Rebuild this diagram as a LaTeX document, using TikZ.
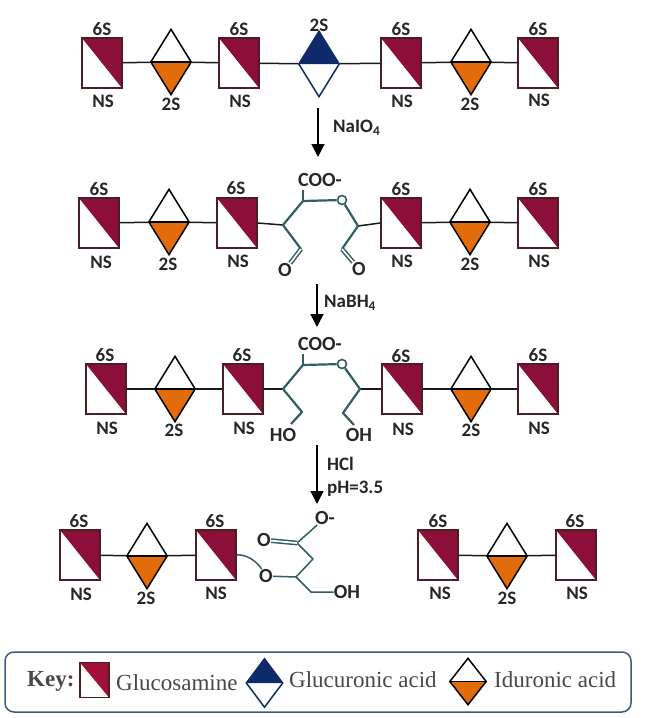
\documentclass[tikz,border=0pt]{standalone}
\usepackage{fontspec}
\setmainfont{Carlito}
\newfontfamily\keyfont{Liberation Serif}
\usetikzlibrary{shapes.geometric,arrows.meta}
\definecolor{gcn}{HTML}{8C0F3A}
\definecolor{gcnkey}{HTML}{A00F35}
\definecolor{gcnedge}{HTML}{4A1F22}
\definecolor{idoa}{HTML}{E36C0A}
\definecolor{gca}{HTML}{0F2A6B}
\definecolor{chain}{HTML}{2F5F63}
\definecolor{keytext}{HTML}{484848}
\definecolor{keyedge}{HTML}{3F5A80}
\tikzset{
  x=1pt,y=-1pt,
  glcn/.style={rectangle,draw=gcnedge,line width=1.5pt,fill=white,minimum width=40pt,minimum height=50pt,inner sep=0pt,
    path picture={\fill[gcn] (path picture bounding box.north west)--(path picture bounding box.north east)--(path picture bounding box.south east)--cycle;}},
  ido/.style={diamond,draw=black,line width=1.5pt,fill=white,minimum width=41pt,minimum height=66pt,inner sep=0pt,
    path picture={\fill[idoa] (path picture bounding box.west)--(path picture bounding box.east)--(path picture bounding box.south)--cycle;
      \draw[black,line width=1.5pt] (path picture bounding box.west)--(path picture bounding box.east);}},
  glca/.style={diamond,draw=gca,line width=1.5pt,fill=white,minimum width=41pt,minimum height=66pt,inner sep=0pt,
    path picture={\fill[gca] (path picture bounding box.west)--(path picture bounding box.east)--(path picture bounding box.north)--cycle;}},
  link/.style={line width=1.5pt,draw=black!90},
  bond/.style={line width=2.2pt,draw=chain,line join=round},
  thin bond/.style={line width=1.5pt,draw=chain,line join=round},
  ringo/.style={circle,draw=chain,line width=1.6pt,fill=white,minimum size=9pt,inner sep=0pt},
  lab/.style={font=\bfseries\fontsize{19}{19}\selectfont,inner sep=0pt,text=black!85},
  chem/.style={font=\bfseries\fontsize{20}{20}\selectfont,inner sep=0pt,text=black!85},
  rxn/.style={line width=1.5pt,-{Triangle[length=13pt,width=13pt]}},
  rxnlab/.style={font=\bfseries\fontsize{19}{19}\selectfont,inner sep=0pt,anchor=west,text=black!85},
  keylab/.style={font=\keyfont\fontsize{23}{23}\selectfont,inner sep=0pt,anchor=west,text=keytext},
}
\begin{document}
\begin{tikzpicture}
\useasboundingbox (0,0) rectangle (645,718);
% first chain
\node[glcn] (a1) at (102,63) {};
\node[ido]  (a2) at (171,62) {};
\node[glcn] (a3) at (239,63) {};
\node[glca] (a4) at (319,64) {};
\node[glcn] (a5) at (401,63) {};
\node[ido]  (a6) at (471,62) {};
\node[glcn] (a7) at (538,63) {};
\draw[link] (a1)--(a2) (a2)--(a3) (a3)--(a4) (a4)--(a5) (a5)--(a6) (a6)--(a7);
\node[lab] (a1t) at (102,29) {6S};
\node[lab] (a1b) at (103,101) {NS};
\node[lab] (a2b) at (171,104) {2S};
\node[lab] (a3t) at (239,29) {6S};
\node[lab] (a3b) at (240,101) {NS};
\node[lab] (a4t) at (319,25) {2S};
\node[lab] (a5t) at (401,29) {6S};
\node[lab] (a5b) at (402,101) {NS};
\node[lab] (a6b) at (470,104) {2S};
\node[lab] (a7t) at (538,29) {6S};
\node[lab] (a7b) at (539,100) {NS};
% periodate step
\coordinate (r1a) at (318,108);
\coordinate (r1b) at (318,157);
\draw[rxn] (r1a)--(r1b);
\node[rxnlab] (r1t) at (333,128) {NaIO\textsubscript{4}};
% second chain
\node[glcn] (b1) at (99,223) {};
\node[ido]  (b2) at (169,222) {};
\node[glcn] (b3) at (237,223) {};
\node[glcn] (b5) at (401,223) {};
\node[ido]  (b6) at (470,222) {};
\node[glcn] (b7) at (538,223) {};
\coordinate (b4l) at (283,225);
\coordinate (b4r) at (358,226);
\coordinate (b4t) at (303,201);
\coordinate (b4s) at (303,190);
\node[ringo] (b4o) at (342,200) {};
\coordinate (b4p) at (301,249);
\coordinate (b4q) at (342,249);
\node[chem] (b4x) at (285,270) {O};
\node[chem] (b4y) at (359,269) {O};
\node[chem] (b4c) at (320,180) {COO-};
\draw[link] (b1)--(b2) (b2)--(b3) (b5)--(b6) (b6)--(b7);
\draw[link] (b3.east)--(b4l) (b4r)--(b5.west);
\draw[bond] (b4p)--(b4l)--(b4t)--(b4o)--(b4r)--(b4q);
\draw[bond] (b4t)--(b4s);
\draw[thin bond,double,double distance=1.6pt] (b4p)--(b4x);
\draw[thin bond,double,double distance=1.6pt] (b4q)--(b4y);
\node[lab] (b1t) at (99,189) {6S};
\node[lab] (b1b) at (101,262) {NS};
\node[lab] (b2b) at (168,264) {2S};
\node[lab] (b3t) at (236,188) {6S};
\node[lab] (b3b) at (238,261) {NS};
\node[lab] (b5t) at (401,189) {6S};
\node[lab] (b5b) at (402,261) {NS};
\node[lab] (b6b) at (470,264) {2S};
\node[lab] (b7t) at (538,189) {6S};
\node[lab] (b7b) at (539,261) {NS};
% borohydride step
\coordinate (r2a) at (317,284);
\coordinate (r2b) at (317,327);
\draw[rxn] (r2a)--(r2b);
\node[rxnlab] (r2t) at (324,303) {NaBH\textsubscript{4}};
% third chain
\node[glcn] (c1) at (106,389) {};
\node[ido]  (c2) at (175,389) {};
\node[glcn] (c3) at (243,389) {};
\node[glcn] (c5) at (402,389) {};
\node[ido]  (c6) at (471,389) {};
\node[glcn] (c7) at (538,389) {};
\coordinate (c4l) at (283,389);
\coordinate (c4r) at (360,389);
\coordinate (c4t) at (303,365);
\coordinate (c4s) at (303,354);
\node[ringo] (c4o) at (342,364) {};
\coordinate (c4p) at (302,412);
\coordinate (c4q) at (343,413);
\coordinate (c4u) at (291,424);
\coordinate (c4v) at (354,425);
\node[chem] (c4x) at (283,435) {HO};
\node[chem] (c4y) at (359,435) {OH};
\node[chem] (c4c) at (320,344) {COO-};
\draw[link] (c1)--(c2) (c2)--(c3) (c5)--(c6) (c6)--(c7);
\draw[link] (c3.east)--(c4l) (c4r)--(c5.west);
\draw[bond] (c4u)--(c4p)--(c4l)--(c4t)--(c4o)--(c4r)--(c4q)--(c4v);
\draw[bond] (c4t)--(c4s);
\node[lab] (c1t) at (105,355) {6S};
\node[lab] (c1b) at (107,428) {NS};
\node[lab] (c2b) at (174,430) {2S};
\node[lab] (c3t) at (242,355) {6S};
\node[lab] (c3b) at (244,428) {NS};
\node[lab] (c5t) at (401,356) {6S};
\node[lab] (c5b) at (403,429) {NS};
\node[lab] (c6b) at (471,430) {2S};
\node[lab] (c7t) at (538,355) {6S};
\node[lab] (c7b) at (539,428) {NS};
% acid hydrolysis step
\coordinate (r3a) at (317,445);
\coordinate (r3b) at (317,504);
\draw[rxn] (r3a)--(r3b);
\node[rxnlab] (r3t) at (327,464) {HCl};
\node[rxnlab] (r3u) at (327,489) {pH=3.5};
% fragments after hydrolysis
\node[glcn] (d1) at (80,555) {};
\node[ido]  (d2) at (147,556) {};
\node[glcn] (d3) at (216,555) {};
\node[glcn] (e1) at (438,555) {};
\node[ido]  (e2) at (507,556) {};
\node[glcn] (e3) at (576,555) {};
\draw[link] (d1)--(d2) (d2)--(d3) (e1)--(e2) (e2)--(e3);
\node[chem] (fo) at (325,518) {O-};
\node[chem] (fd) at (264,540) {O};
\node[chem] (fe) at (266,576) {O};
\node[chem] (fh) at (347,592) {OH};
\coordinate (fc) at (297,543);
\coordinate (fm) at (313,559);
\coordinate (fn) at (296,577);
\coordinate (fk) at (311,592);
\draw[thin bond] (fo)--(fc)--(fm)--(fn)--(fk)--(fh);
\draw[thin bond,double,double distance=1.8pt] (fd)--(fc);
\draw[thin bond] (fe)--(fn);
\draw[thin bond] (d3.east) .. controls (245,554) and (256,560) .. (fe);
\node[lab] (d1t) at (79,521) {6S};
\node[lab] (d1b) at (81,594) {NS};
\node[lab] (d2b) at (146,598) {2S};
\node[lab] (d3t) at (215,521) {6S};
\node[lab] (d3b) at (216,593) {NS};
\node[lab] (e1t) at (438,521) {6S};
\node[lab] (e1b) at (440,593) {NS};
\node[lab] (e2b) at (507,598) {2S};
\node[lab] (e3t) at (575,521) {6S};
\node[lab] (e3b) at (577,593) {NS};
% legend
\node[rectangle,rounded corners=9pt,draw=keyedge,line width=1.5pt,minimum width=626pt,minimum height=60pt] (keybox) at (318,682) {};
\node[font=\keyfont\bfseries\fontsize{23}{23}\selectfont,inner sep=0pt,anchor=west,text=keytext] (keyt) at (27,681) {Key:};
\node[glcn,minimum width=29pt,minimum height=35pt,draw=gcnedge,
  path picture={\fill[gcnkey] (path picture bounding box.north west)--(path picture bounding box.north east)--(path picture bounding box.south east)--cycle;}] (k1) at (94.5,680) {};
\node[keylab] (k1t) at (116,683) {Glucosamine};
\node[glca,minimum width=37pt,minimum height=49pt] (k2) at (264.5,683) {};
\node[keylab] (k2t) at (289,680) {Glucuronic acid};
\node[ido,minimum width=37pt,minimum height=47pt] (k3) at (468,681.5) {};
\node[keylab] (k3t) at (494,680) {Iduronic acid};
\end{tikzpicture}
\end{document}
